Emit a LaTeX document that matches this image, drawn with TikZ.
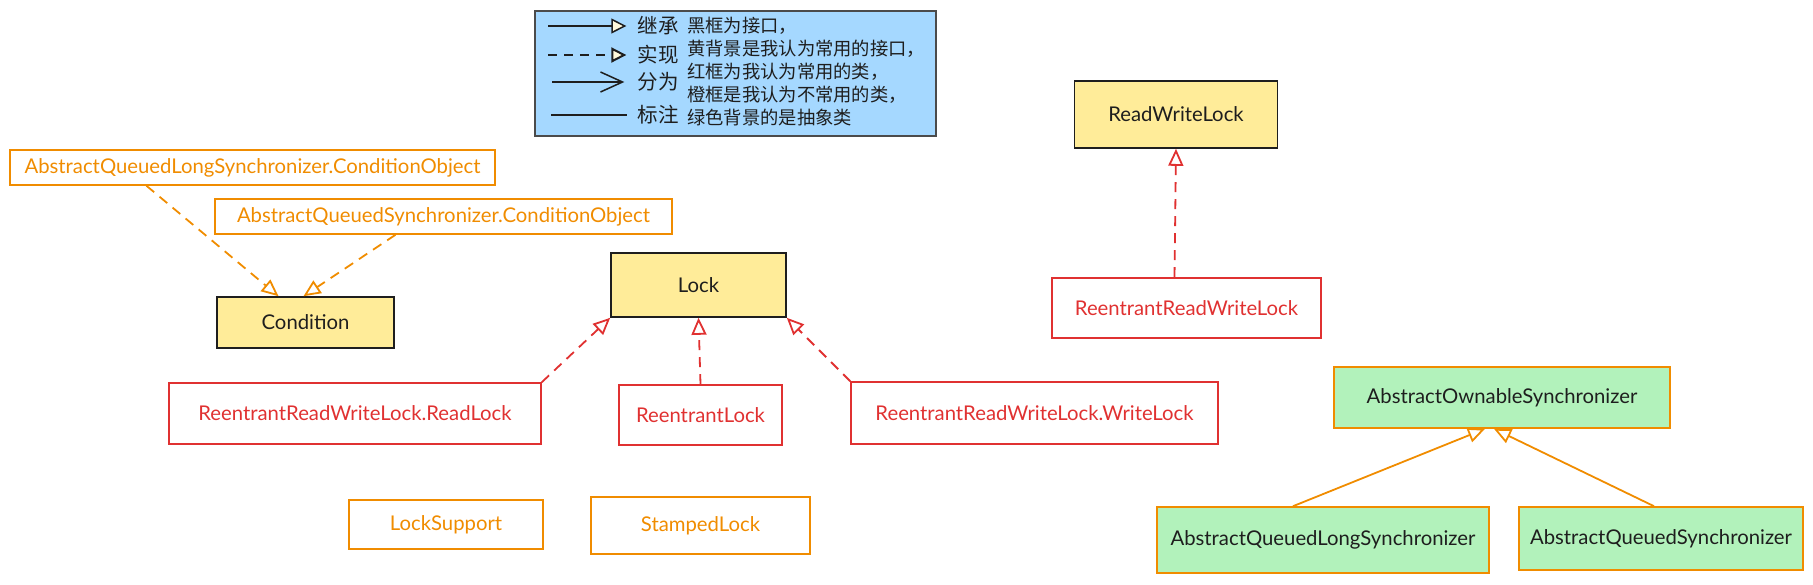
\documentclass[tikz,border=0pt]{standalone}
\usepackage{fontspec}
\setmainfont{Lato}
\newfontfamily\cjk{Noto Sans CJK SC}
\usetikzlibrary{arrows.meta}

\begin{document}
\begin{tikzpicture}[x=1pt, y=-1pt,
  box/.style={draw, line width=1.6pt, inner sep=0pt, font=\fontsize{20.3}{24}\selectfont},
  iface/.style={box, draw=ink, fill=yel, text=ink},
  cls/.style={box, draw=redc, text=redc},
  rare/.style={box, draw=org, text=org},
  abst/.style={box, draw=org, fill=grn, text=ink},
  impl/.style={line width=1.8pt, dash pattern=on 10pt off 7pt, -{Triangle[open, length=17pt, width=15pt]}},
  inh/.style={line width=1.8pt, -{Triangle[open, length=17pt, width=15pt]}},
  lbl/.style={text=ink, inner sep=0pt, font=\cjk\fontsize{20.5}{24}\selectfont}]
\definecolor{ink}{HTML}{1E1E1E}
\definecolor{org}{HTML}{F08C00}
\definecolor{redc}{HTML}{E03131}
\definecolor{yel}{HTML}{FFEC99}
\definecolor{grn}{HTML}{B2F2BB}
\definecolor{blu}{HTML}{A5D8FF}
\definecolor{cream}{HTML}{FFF9DB}
\useasboundingbox (0,0) rectangle (1813,584);

% legend
\node[draw=ink!80, line width=1.2pt, fill=blu, minimum width=401pt, minimum height=125pt] (legend) at (735.5,73.5) {};
\node[lbl] (inhlbl) at (658,26) {继承};
\node[lbl] (impllbl) at (658,55) {实现};
\node[lbl] (splitlbl) at (658,82) {分为};
\node[lbl] (notelbl) at (658,115) {标注};
\node[anchor=west, align=left, text=ink, inner sep=0pt, font=\cjk\fontsize{18.3}{23}\selectfont] (note) at (687,71.5)
  {黑框为接口，\\黄背景是我认为常用的接口，\\红框为我认为常用的类，\\橙框是我认为不常用的类，\\绿色背景的是抽象类};
\coordinate (a1) at (548,26);
\coordinate (a2) at (548,55);
\coordinate (a3) at (552,82);
\coordinate (a4) at (551,115);
\draw[ink, line width=1.5pt, -{Triangle[fill=cream, length=15pt, width=15pt]}] (a1) -- ([xshift=-11pt]inhlbl.west);
\draw[ink, line width=2pt, dash pattern=on 9pt off 7pt, -{Triangle[fill=cream, length=15pt, width=15pt]}] (a2) -- ([xshift=-11pt]impllbl.west);
\draw[ink, line width=1.5pt, -{Straight Barb[length=22pt, width=20pt]}] (a3) -- ([xshift=-13pt]splitlbl.west);
\draw[ink, line width=1.5pt] (a4) -- ([xshift=-10pt]notelbl.west);

% Condition
\node[rare, minimum width=485pt, minimum height=35pt] (aqlsco) at (252.5,167.5) {AbstractQueuedLongSynchronizer.ConditionObject};
\node[rare, minimum width=457pt, minimum height=35pt] (aqsco) at (443.5,216.5) {AbstractQueuedSynchronizer.ConditionObject};
\node[iface, minimum width=177pt, minimum height=51pt] (cond) at (305.5,322.5) {Condition};
\draw[impl, org] ([xshift=-106pt]aqlsco.south) -- ([xshift=-27pt]cond.north);
\draw[impl, org] ([xshift=-48pt]aqsco.south) -- ([xshift=-2pt]cond.north);

% Lock
\node[iface, minimum width=175pt, minimum height=64pt] (lock) at (698.5,285) {Lock};
\node[cls, minimum width=372pt, minimum height=61pt] (readlock) at (355,413.5) {ReentrantReadWriteLock.ReadLock};
\node[cls, minimum width=163pt, minimum height=60pt] (relock) at (700.5,415) {ReentrantLock};
\node[cls, minimum width=367pt, minimum height=62pt] (writelock) at (1034.5,413) {ReentrantReadWriteLock.WriteLock};
\draw[impl, redc] (readlock.north east) -- (lock.south west);
\draw[impl, redc] (relock.north) -- (lock.south);
\draw[impl, redc] (writelock.north west) -- (lock.south east);

\node[rare, minimum width=194pt, minimum height=49pt] (locksupport) at (446,524.5) {LockSupport};
\node[rare, minimum width=219pt, minimum height=57pt] (stamped) at (700.5,525.5) {StampedLock};

% ReadWriteLock
\node[iface, minimum width=203pt, minimum height=67pt] (rwl) at (1176,114.5) {ReadWriteLock};
\node[cls, minimum width=269pt, minimum height=60pt] (rrwl) at (1186.5,308) {ReentrantReadWriteLock};
\draw[impl, redc] ([xshift=-12pt]rrwl.north) -- (rwl.south);

% synchronizers
\node[abst, minimum width=336pt, minimum height=61pt] (aos) at (1502,397.5) {AbstractOwnableSynchronizer};
\node[abst, minimum width=332pt, minimum height=66pt] (aqls) at (1323,540) {AbstractQueuedLongSynchronizer};
\node[abst, minimum width=284pt, minimum height=63pt] (aqs) at (1661,538.5) {AbstractQueuedSynchronizer};
\draw[inh, org] ([xshift=-30pt]aqls.north) -- ([xshift=-17pt]aos.south);
\draw[inh, org] ([xshift=-7pt]aqs.north) -- ([xshift=-8pt]aos.south);
\end{tikzpicture}
\end{document}
